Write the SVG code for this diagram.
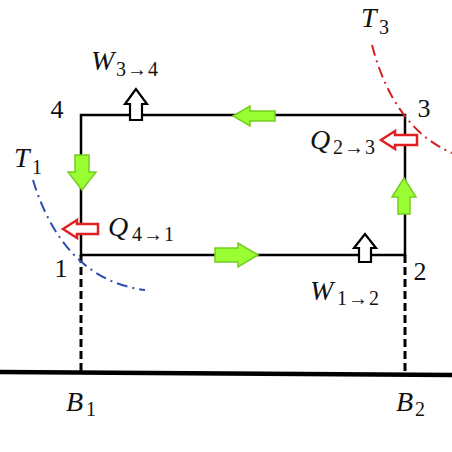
<svg xmlns="http://www.w3.org/2000/svg" width="452" height="452" viewBox="0 0 452 452">
<style>
.t{font-family:"Liberation Serif","DejaVu Serif",serif;fill:#111}
.m{font-style:italic;font-size:28px}
.s{font-size:20px}
.d{font-size:26px;text-anchor:middle}
.edge{stroke:#000;stroke-width:2.5;fill:none}
.dash{stroke:#000;stroke-width:3;stroke-dasharray:8,4;fill:none}
.g{fill:#99ff33;stroke:#77cc22;stroke-width:1.5}
.w{fill:#fff;stroke:#000;stroke-width:2.2}
.r{fill:#fff;stroke:#e02020;stroke-width:2.5}
</style>
<rect width="452" height="452" fill="#fff"/>
<g id="connectors">
<path class="edge" d="M81,115 H405 V255 H81 Z"/>
<path class="dash" d="M81,255 V373"/>
<path class="dash" d="M405,255 V374"/>
<path d="M0,372 L452,375" stroke="#000" stroke-width="4.5" fill="none"/>
<path d="M372,45 C385,95 410,135 452,153" stroke="#d42020" stroke-width="2" stroke-dasharray="11,5,2,5" fill="none"/>
<path d="M33,180 C48,230 80,282 145,290" stroke="#2a4fb0" stroke-width="2" stroke-dasharray="11,5,2,5" fill="none"/>
</g>
<g id="flow-arrows">
<path class="g" d="M233,116 L250,106 V111 H275 V121 H250 V126 Z"/>
<path class="g" d="M82,190 L68,172 H75 V155 H89 V172 H96 Z"/>
<path class="g" d="M258,255 L238,243 V248 H215 V262 H238 V267 Z"/>
<path class="g" d="M404,178 L392,197 H398 V214 H410 V197 H416 Z"/>
</g>
<g id="work-arrows">
<path class="w" d="M136,89 L125,104 H130 V120 H142 V104 H147 Z"/>
<path class="w" d="M365,234 L354,248 H359 V262 H371 V248 H376 Z"/>
</g>
<g id="heat-arrows">
<path class="r" d="M381,140 L395,131 V135 H417 V145 H395 V149 Z"/>
<path class="r" d="M63,229 L77,220 V224 H98 V234 H77 V238 Z"/>
</g>
<g id="node-4"><text class="t d" x="57" y="118">4</text></g>
<g id="node-3"><text class="t d" x="424" y="117">3</text></g>
<g id="node-1"><text class="t d" x="61" y="277">1</text></g>
<g id="node-2"><text class="t d" x="420" y="280">2</text></g>
<g id="labels">
<text class="t m" x="91" y="70">W</text><text class="t s" x="116" y="76" letter-spacing="1">3→4</text>
<text class="t m" x="361" y="27">T</text><text class="t s" x="379" y="34">3</text>
<text class="t m" x="310" y="149">Q</text><text class="t s" x="333" y="154" letter-spacing="1">2→3</text>
<text class="t m" x="14" y="167">T</text><text class="t s" x="32" y="174">1</text>
<text class="t m" x="108" y="236">Q</text><text class="t s" x="132" y="241" letter-spacing="1">4→1</text>
<text class="t m" x="310" y="300">W</text><text class="t s" x="337" y="305" letter-spacing="1">1→2</text>
<text class="t m" x="66" y="411">B</text><text class="t s" x="86" y="416">1</text>
<text class="t m" x="396" y="411">B</text><text class="t s" x="415" y="416">2</text>
</g>
</svg>
